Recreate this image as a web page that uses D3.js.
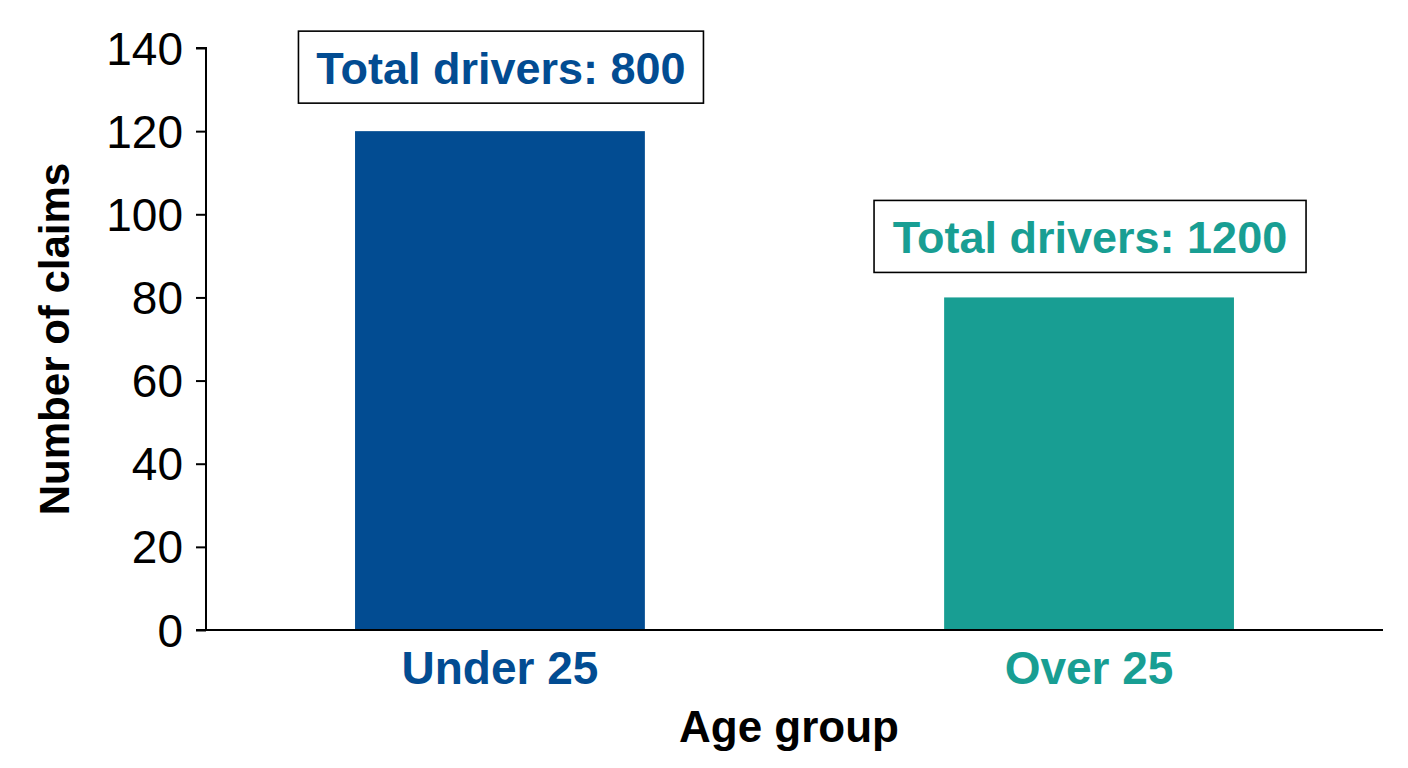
<!DOCTYPE html>
<html><head><meta charset="utf-8">
<script src="https://cdn.jsdelivr.net/npm/d3@7"></script>
<style>body{margin:0;background:#fff}text{font-family:"Liberation Sans",Arial,sans-serif}</style>
</head><body><svg id="c" width="1408" height="768"></svg>
<script>
const categories = ["Under 25", "Over 25"];
const claims = [120, 80];
const totalDrivers = [800, 1200];
const colors = ["#024C92", "#189E93"];
const yTicks = [0, 20, 40, 60, 80, 100, 120, 140];

const svg = d3.select("#c");
const x = d3.scaleBand().domain(categories).range([206, 1383]).paddingInner(0.508).paddingOuter(0.253);
const y = d3.scaleLinear().domain([0, 140]).range([630, 48]);

// bars
svg.selectAll("rect.bar").data(categories).join("rect")
  .attr("x", d => x(d)).attr("width", x.bandwidth())
  .attr("y", (d, i) => y(claims[i])).attr("height", (d, i) => y(0) - y(claims[i]))
  .attr("fill", (d, i) => colors[i]);

// y axis
const ya = svg.append("g").attr("transform", "translate(206,0)")
  .call(d3.axisLeft(y).tickValues(yTicks).tickSize(10).tickPadding(13));
ya.select(".domain").attr("stroke", "#000").attr("stroke-width", 2).attr("d", "M0,630V48H-10");
ya.selectAll(".tick line").attr("stroke", "#000").attr("stroke-width", 2);
ya.selectAll(".tick text").attr("font-size", 46).attr("fill", "#000").attr("font-family", "Liberation Sans, Arial").attr("dy", "0.35em");

// x axis
const xa = svg.append("g").attr("transform", "translate(0,630)")
  .call(d3.axisBottom(x).tickSize(0).tickPadding(21));
xa.select(".domain").attr("stroke", "#000").attr("stroke-width", 2).attr("d", "M196,0H1383");
xa.selectAll(".tick text").attr("font-size", 46).attr("font-weight", "bold")
  .attr("font-family", "Liberation Sans, Arial")
  .attr("fill", (d, i) => colors[i]).attr("dy", "0.71em");

// annotation boxes
const boxW = [405, 432], boxH = 72, boxOffset = [100, 97];
categories.forEach((c, i) => {
  const cx = x(c) + x.bandwidth() / 2 + 1;
  const top = y(claims[i]) - boxOffset[i];
  svg.append("rect").attr("x", cx - boxW[i] / 2).attr("y", top).attr("width", boxW[i]).attr("height", boxH)
    .attr("fill", "#fff").attr("stroke", "#000").attr("stroke-width", 1.6);
  svg.append("text").attr("x", cx).attr("y", top + boxH / 2).attr("dy", "0.367em")
    .attr("text-anchor", "middle").attr("font-size", 45).attr("font-weight", "bold")
    .attr("fill", colors[i]).text("Total drivers: " + totalDrivers[i]);
});

// axis titles
svg.append("text").attr("transform", "translate(69,339) rotate(-90)").attr("text-anchor", "middle")
  .attr("font-size", 42).attr("font-weight", "bold").attr("fill", "#000").text("Number of claims");
svg.append("text").attr("x", 789).attr("y", 742).attr("text-anchor", "middle")
  .attr("font-size", 44).attr("font-weight", "bold").attr("fill", "#000").text("Age group");
</script></body></html>
